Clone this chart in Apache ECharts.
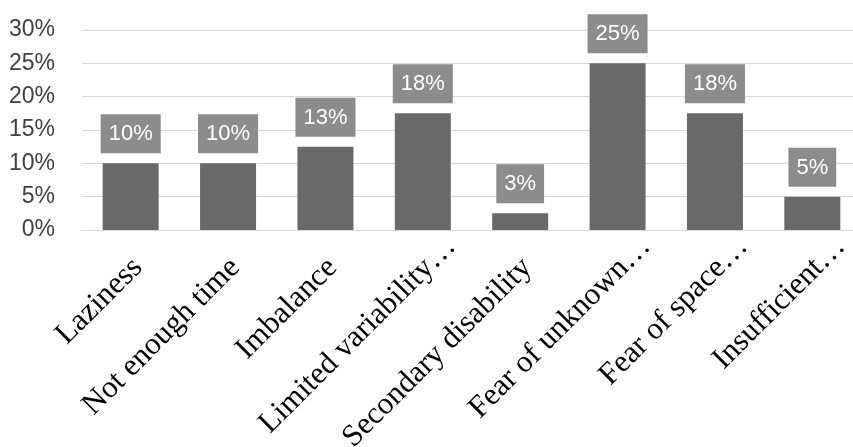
<!DOCTYPE html>
<html>
<head>
<meta charset="utf-8">
<script src="https://cdn.jsdelivr.net/npm/echarts@6/dist/echarts.min.js"></script>
<style>
  html, body { margin: 0; padding: 0; background: #fff; }
  #chart { width: 853px; height: 447px; }
</style>
</head>
<body>
<div id="chart"></div>
<script>
// Reasons given, share of respondents (%)
const categories = [
  'Laziness',
  'Not enough time',
  'Imbalance',
  'Limited variability\u2026',
  'Secondary disability',
  'Fear of unknown\u2026',
  'Fear of space\u2026',
  'Insufficient\u2026'
];
const shares = [10, 10, 12.5, 17.5, 2.5, 25, 17.5, 5];
const yTicks = [0, 5, 10, 15, 20, 25, 30];

const chart = echarts.init(document.getElementById('chart'));

// shortened names sit a little further along their diagonal
const xLabels = categories.map(name => ({
  value: name,
  textStyle: { padding: [0, name.endsWith('\u2026') ? -40 : -10, 0, 0] }
}));

chart.setOption({
  animation: false,
  backgroundColor: '#ffffff',
  grid: {
    left: 82, top: 30, width: 779, bottom: 217,
    containLabel: false,
    outerBoundsMode: 'none'
  },
  xAxis: {
    type: 'category',
    data: xLabels,
    axisTick: { show: false },
    axisLine: { lineStyle: { color: '#d9d9d9', width: 1 } },
    axisLabel: {
      interval: 0,
      rotate: 45,
      margin: 40,
      color: '#000000',
      fontFamily: 'Liberation Serif',
      fontSize: 31
    }
  },
  yAxis: {
    type: 'value',
    min: yTicks[0],
    max: yTicks[yTicks.length - 1],
    interval: yTicks[1] - yTicks[0],
    axisLine: { show: false },
    axisTick: { show: false },
    splitLine: { lineStyle: { color: '#d9d9d9', width: 1 } },
    axisLabel: {
      formatter: '{value}%',
      margin: 27,
      color: '#404040',
      fontFamily: 'Liberation Sans',
      fontSize: 23
    }
  },
  series: [{
    type: 'bar',
    data: shares,
    barWidth: '57.5%',
    itemStyle: { color: '#696969' },
    label: {
      show: true,
      position: 'top',
      distance: 10,
      formatter: p => Math.round(p.value) + '%',
      color: '#ffffff',
      backgroundColor: '#8c8c8c',
      padding: [9, 8, 8, 8],
      fontFamily: 'Liberation Sans',
      fontSize: 22,
      lineHeight: 22
    }
  }]
});
</script>
</body>
</html>
